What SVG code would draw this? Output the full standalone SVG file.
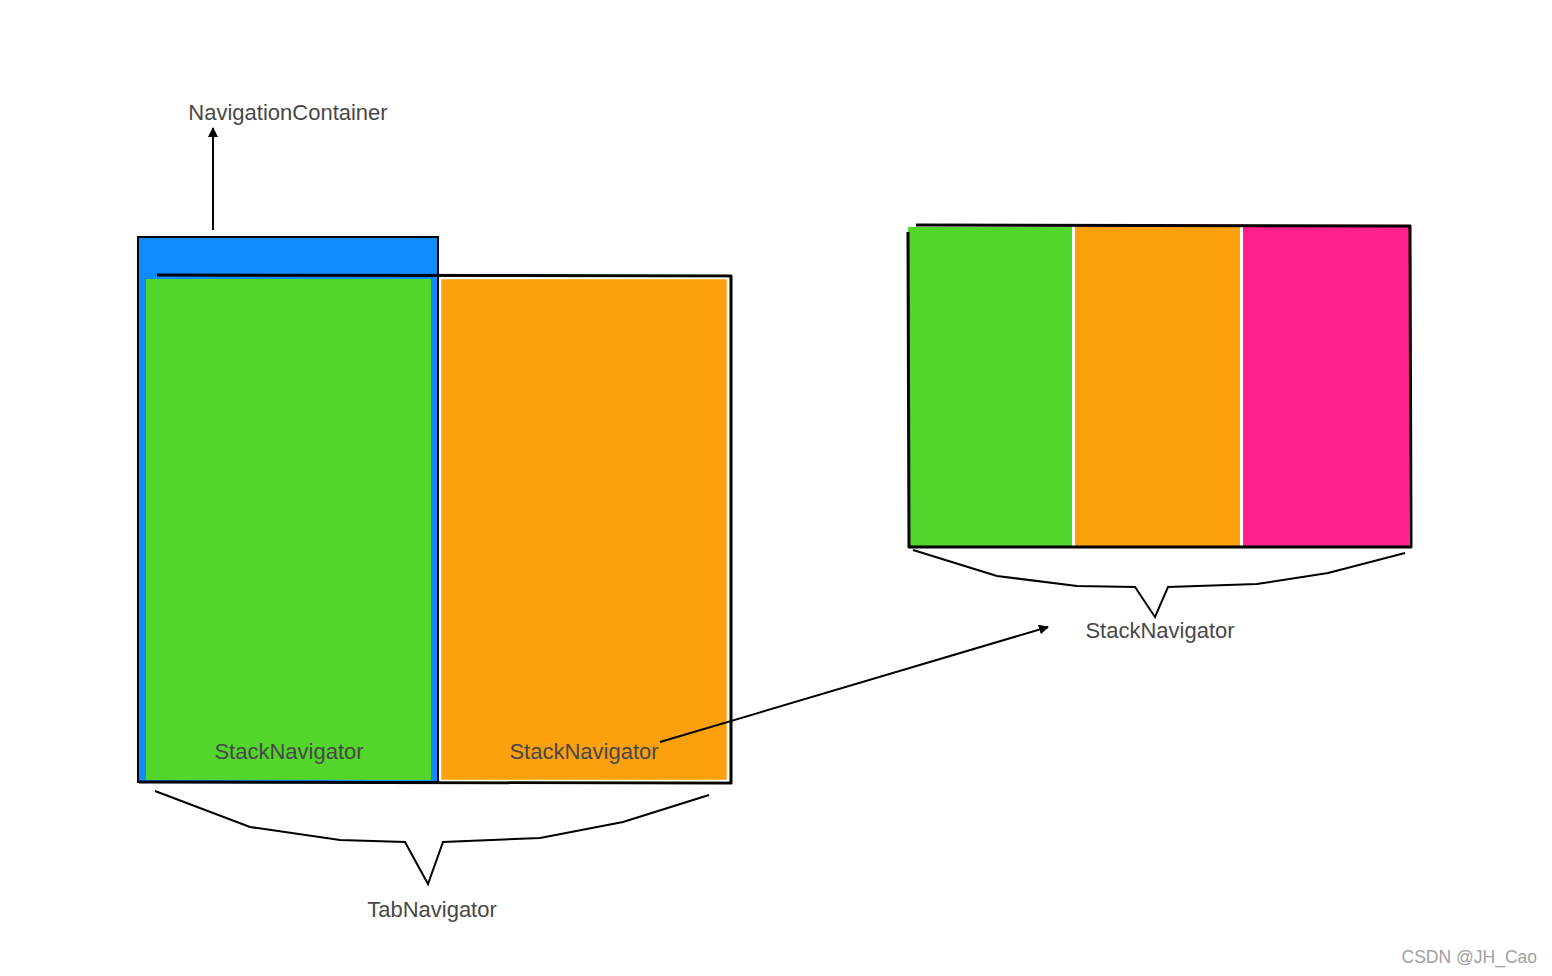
<svg xmlns="http://www.w3.org/2000/svg" width="1552" height="976" viewBox="0 0 1552 976">
<defs>
<style>
.lbl{font-family:"Liberation Sans",Arial,sans-serif;font-size:22px;fill:#484848;}
.wm{font-family:"Liberation Sans",Arial,sans-serif;font-size:17.5px;fill:#a0a0a0;}
.sketch{fill:none;stroke:#000;stroke-width:3;stroke-linejoin:round;}
.brace{fill:none;stroke:#000;stroke-width:2;stroke-linejoin:miter;}
.conn{fill:none;stroke:#000;stroke-width:2;}
</style>
<marker id="arr" viewBox="0 0 10 10" refX="9" refY="5" markerWidth="5" markerHeight="5" orient="auto-start-reverse">
<path d="M0,0 L10,5 L0,10 z" fill="#000"/>
</marker>
</defs>
<rect width="1552" height="976" fill="#fff"/>
<g id="navigation-container">
<rect x="138" y="237" width="300" height="545" fill="#0f8bff" stroke="#000" stroke-width="2"/>
</g>
<g id="tab-navigator-box">
<path class="sketch" d="M157,275 L731,276 L731,783 L139,782"/>
<path d="M148,282 L149,780" stroke="#2a5a1a" stroke-width="1" fill="none"/>
</g>
<g id="stack-left">
<rect x="146" y="279" width="285" height="501" fill="#53d62b"/>
<text class="lbl" x="289" y="759" text-anchor="middle">StackNavigator</text>
</g>
<g id="stack-right">
<rect x="440.5" y="278.5" width="287" height="502" fill="#fca00d" stroke="#fff" stroke-width="1.5"/>
<text class="lbl" x="584" y="759" text-anchor="middle">StackNavigator</text>
</g>
<g id="stack-detail">
<rect x="908" y="227" width="164" height="320" fill="#53d62b"/>
<rect x="1075" y="227" width="165" height="320" fill="#fca00d"/>
<rect x="1243" y="227" width="166" height="320" fill="#fe218d"/>
<path class="sketch" d="M916,225 L1410,226 L1411,547 L909,547 L908,232"/>
</g>
<g id="brace-tab">
<path class="brace" d="M155,791 L250,827 L340,840 L405,842 L428,884 L443,842 L540,838 L623,822 L709,795"/>
<text class="lbl" x="432" y="917" text-anchor="middle">TabNavigator</text>
</g>
<g id="brace-stack">
<path class="brace" d="M913,550 L997,576 L1077,586 L1135,587 L1155,617 L1168,587 L1257,584 L1328,573 L1405,553"/>
<text class="lbl" x="1160" y="638" text-anchor="middle">StackNavigator</text>
</g>
<g id="label-container">
<text class="lbl" x="288" y="120" text-anchor="middle">NavigationContainer</text>
</g>
<g id="connectors">
<line class="conn" x1="213" y1="230" x2="213" y2="128" marker-end="url(#arr)"/>
<line class="conn" x1="660" y1="742" x2="1048" y2="627" marker-end="url(#arr)"/>
</g>
<text class="wm" x="1537" y="963" text-anchor="end">CSDN @JH_Cao</text>
</svg>
